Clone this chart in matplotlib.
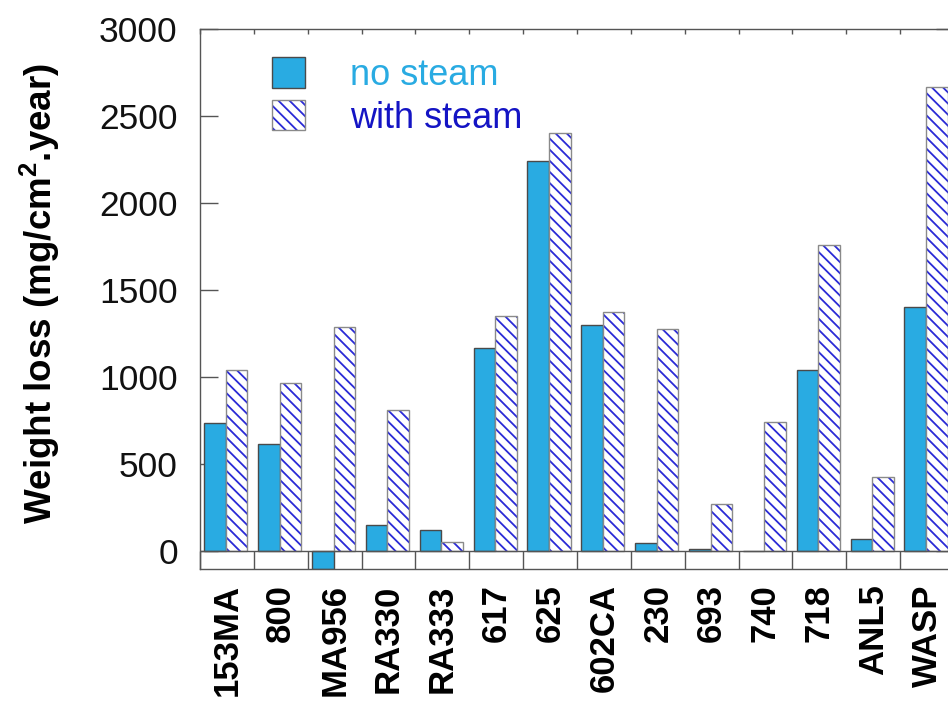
import matplotlib
matplotlib.use("Agg")
import matplotlib.pyplot as plt
import numpy as np

plt.rcParams['font.family'] = ['Liberation Sans', 'DejaVu Sans']
plt.rcParams['mathtext.fontset'] = 'custom'
plt.rcParams['mathtext.rm'] = 'Liberation Sans'
plt.rcParams['mathtext.bf'] = 'Liberation Sans:bold'
plt.rcParams['hatch.linewidth'] = 1.3

# Alloys and corrosion rates
alloys = ["153MA", "800", "MA956", "RA330", "RA333", "617", "625",
          "602CA", "230", "693", "740", "718", "ANL5", "WASP"]
no_steam = [735, 615, -105, 150, 122, 1165, 2240, 1300, 48, 13, 2, 1040, 68, 1405]
with_steam = [1040, 965, 1290, 810, 53, 1350, 2405, 1375, 1275, 268, 740, 1760, 427, 2668]

yticks = [0, 500, 1000, 1500, 2000, 2500, 3000]

c_plain = '#29abe2'
c_hatch = '#2a2ad6'
c_text2 = '#1414c4'
c_edge = '#4a4a4a'
c_edge2 = '#8a8a8a'
c_axis = '#555555'

W, H = 948, 703
fig = plt.figure(figsize=(W / 100, H / 100), dpi=100)
ax = fig.add_axes([200 / W, 134 / H, 754 / W, 540 / H])

x = np.arange(len(alloys))
bw = 0.4
b1 = ax.bar(x - 0.02 - bw / 2, no_steam, bw, color=c_plain, edgecolor=c_edge,
            linewidth=1.0, zorder=2)
b2 = ax.bar(x - 0.02 + bw / 2, with_steam, bw, color='white', edgecolor=c_hatch,
            hatch='\\\\\\', linewidth=0, zorder=2)
b2o = ax.bar(x - 0.02 + bw / 2, with_steam, bw, fill=False, edgecolor=c_edge2,
             linewidth=1.0, zorder=3)

ax.axhline(0, color=c_axis, linewidth=1.0, zorder=4)

ax.set_xlim(-0.5, len(alloys) - 0.5)
ax.set_ylim(-103, 3000)

for s in ax.spines.values():
    s.set_color(c_axis)
    s.set_linewidth(1.0)

# y axis
ax.set_yticks(yticks)
ax.set_yticklabels([str(v) for v in yticks], fontsize=25.5, color='#111111')
ax.tick_params(axis='y', which='major', direction='in', length=13, width=1.0,
               color=c_axis, left=True, right=True, pad=16)

# x axis: labels at centers, tick marks at boundaries
ax.set_xticks(x)
ax.set_xticklabels(alloys, rotation=90, fontsize=25, fontweight='bold',
                   va='top', ha='center')
ax.tick_params(axis='x', which='major', length=0, pad=11)
ax.set_xticks(np.arange(-0.5, len(alloys)), minor=True)
ax.tick_params(axis='x', which='minor', direction='in', length=13, width=1.0,
               color=c_axis, bottom=True, top=False)

top = ax.secondary_xaxis('top')
top.set_xticks(np.arange(-0.5, len(alloys)))
top.set_xticklabels([])
top.tick_params(direction='in', length=3.5, width=1.0, color=c_axis)
top.spines['top'].set_visible(False)

ax.set_ylabel('Weight loss (mg/cm$^\\mathbf{2}$.year)', fontsize=26.5,
              fontweight='bold')
ax.yaxis.label.set_rotation_mode('default')
ax.yaxis.label.set_va('center')
ax.yaxis.label.set_ha('center')
ax.yaxis.set_label_coords(-0.213, 0.51)

leg = ax.legend([b1, (b2, b2o)], ['no steam', 'with steam'], loc='upper left',
                bbox_to_anchor=(0.095, 0.948), frameon=False, fontsize=26,
                handlelength=0.92, handleheight=0.92, handletextpad=1.25,
                labelspacing=0.2, borderpad=0, borderaxespad=0)
leg.get_texts()[0].set_color(c_plain)
leg.get_texts()[1].set_color(c_text2)

fig.savefig('out.png', dpi=100)
